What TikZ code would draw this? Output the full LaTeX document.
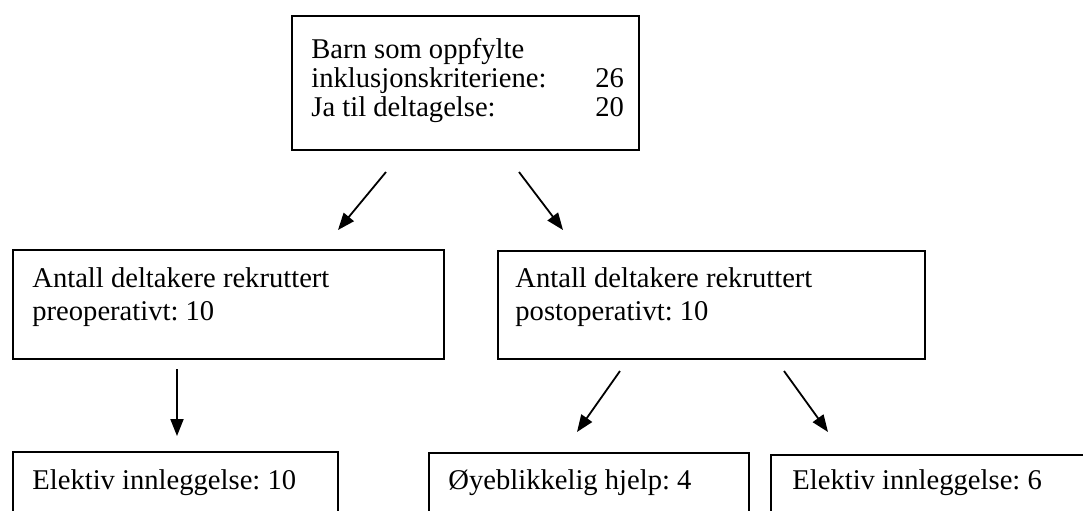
\documentclass[tikz,border=0pt]{standalone}
\usepackage{fontspec}
\setmainfont{Liberation Serif}
\usetikzlibrary{arrows.meta}
\frenchspacing
\newcommand{\boxlines}[1]{\begin{tabular}[t]{@{}l@{}}#1\end{tabular}}

\begin{document}
\begin{tikzpicture}[x=0.5pt,y=-0.5pt]
  \tikzset{
    box/.style={
      draw,
      line width=1pt,
      anchor=north west,
      inner sep=0pt
    },
    boxtext/.style={
      anchor=base west,
      inner sep=0pt,
      font=\fontsize{14.3}{16.5}\selectfont
    },
    flow/.style={
      line width=0.9pt,
      -{Triangle[length=8.5pt,width=6.5pt]}
    }
  }
  \useasboundingbox (0,0) rectangle (1083,510);
  \clip (0,0) rectangle (1083,510);

  % Draw the boxes
  \node[box, minimum width=173.5pt, minimum height=67pt] at (291,15) (top) {};
  \node[box, minimum width=215.5pt, minimum height=54.5pt] at (12,249) (preop) {};
  \node[box, minimum width=213.5pt, minimum height=54pt] at (497,250) (postop) {};
  \node[box, minimum width=162.5pt, minimum height=45pt] at (12,451) (elektivA) {};
  \node[box, minimum width=160pt, minimum height=45pt] at (428,452) (oyeblikk) {};
  \node[box, minimum width=165pt, minimum height=45pt] at (770,454) (elektivB) {};

  % Box texts
  \node[boxtext, font=\fontsize{14.3}{14.5}\selectfont] at (311,58) (top-txt) {\boxlines{%
    Barn som oppfylte\\
    \makebox[142pt][l]{inklusjonskriteriene:}26\\
    \makebox[142pt][l]{Ja til deltagelse:}20}};
  \node[boxtext] at (32,287) (preop-txt) {\boxlines{Antall deltakere rekruttert\\preoperativt: 10}};
  \node[boxtext] at (515,287) (postop-txt) {\boxlines{Antall deltakere rekruttert\\postoperativt: 10}};
  \node[boxtext] at (32,489) (elektivA-txt) {Elektiv innleggelse: 10};
  \node[boxtext] at (448,489) (oyeblikk-txt) {Øyeblikkelig hjelp: 4};
  \node[boxtext] at (792,489) (elektivB-txt) {Elektiv innleggelse: 6};

  % Arrow ends
  \coordinate (top-l) at (386,172);
  \coordinate (preop-in) at (338,230);
  \coordinate (top-r) at (519,172);
  \coordinate (postop-in) at (563,230);
  \coordinate (preop-out) at (177,369);
  \coordinate (elektivA-in) at (177,436);
  \coordinate (postop-l) at (620,371);
  \coordinate (oyeblikk-in) at (577,432);
  \coordinate (postop-r) at (784,371);
  \coordinate (elektivB-in) at (828,432);

  % Draw the arrows
  \draw[flow] (top-l) -- (preop-in);
  \draw[flow] (top-r) -- (postop-in);
  \draw[flow] (preop-out) -- (elektivA-in);
  \draw[flow] (postop-l) -- (oyeblikk-in);
  \draw[flow] (postop-r) -- (elektivB-in);
\end{tikzpicture}
\end{document}
